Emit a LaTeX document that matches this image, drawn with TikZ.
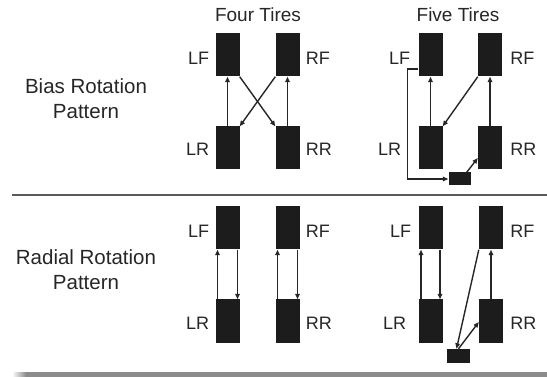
\documentclass[tikz,border=0pt]{standalone}
\usepackage{fontspec}
\setmainfont{Liberation Sans}
\usetikzlibrary{arrows.meta,positioning,calc}
\definecolor{TireBlack}{HTML}{1C1C1C}
\definecolor{InkGray}{HTML}{262626}
\definecolor{RuleGray}{HTML}{5A5A5A}
\definecolor{ShadowGray}{HTML}{8C8C8C}

\begin{document}
\begin{tikzpicture}[
        x=1pt,y=-1pt,
        tire/.style={fill=TireBlack,draw=none,minimum width=24pt,minimum height=43pt,inner sep=0pt},
        spare/.style={fill=TireBlack,draw=none,minimum width=22pt,minimum height=13pt,inner sep=0pt},
        tirelbl/.style={font=\fontsize{18}{20}\selectfont,text=InkGray,inner sep=1pt},
        title/.style={font=\fontsize{19}{23}\selectfont,text=InkGray,align=center},
        rowtitle/.style={font=\fontsize{20.5}{25}\selectfont,text=InkGray,align=center},
        arr/.style={-{Triangle[length=5.5pt,width=4.5pt]},line width=1.4pt,draw=InkGray}
      ]
        \useasboundingbox (0,0) rectangle (547,377);
        % column and row headings
        \node[title] (four) at (258,15) {Four Tires};
        \node[title] (five) at (458,15) {Five Tires};
        \node[rowtitle] (bias) at (86,99) {Bias Rotation\\Pattern};
        \node[rowtitle] (radial) at (86,270) {Radial Rotation\\Pattern};
        % rules
        \draw[line width=2pt,draw=RuleGray] (12,195) -- (547,195);
        \shade[left color=white,right color=ShadowGray] (12,372) rectangle (26,377);
        \fill[ShadowGray] (26,372) rectangle (547,377);
        % bias, four tires
        \node[tire] (lf4b) at (227.5,55) {};
        \node[tire] (rf4b) at (287.5,55) {};
        \node[tire] (lr4b) at (227.5,148) {};
        \node[tire] (rr4b) at (287.5,148) {};
        \node[tirelbl,left=5pt of lf4b,yshift=-3pt] {LF};
        \node[tirelbl,right=5pt of rf4b,yshift=-3pt] {RF};
        \node[tirelbl,left=5pt of lr4b,yshift=-1pt] {LR};
        \node[tirelbl,right=5pt of rr4b,yshift=-1pt] {RR};
        \draw[arr] (lr4b.north) -- (lf4b.south);
        \draw[arr] (rr4b.north) -- (rf4b.south);
        \draw[arr] (lf4b.south east) -- (rr4b.north west);
        \draw[arr] (rf4b.south west) -- (lr4b.north east);
        % bias, five tires
        \node[tire] (lf5b) at (430.5,55) {};
        \node[tire] (rf5b) at (490,55) {};
        \node[tire] (lr5b) at (430.5,148) {};
        \node[tire] (rr5b) at (490,148) {};
        \node[spare] (sp5b) at (459.5,179) {};
        \node[tirelbl,left=7pt of lf5b,yshift=-3pt] {LF};
        \node[tirelbl,right=7pt of rf5b,yshift=-3pt] {RF};
        \node[tirelbl,left=16pt of lr5b,yshift=-1pt] {LR};
        \node[tirelbl,right=7pt of rr5b,yshift=-1pt] {RR};
        \draw[arr] (lr5b.north) -- (lf5b.south);
        \draw[arr] (rr5b.north) -- (rf5b.south);
        \draw[arr] (rf5b.south west) -- (lr5b.north east);
        \draw[arr] ([yshift=-14pt]lf5b.west) -- ++(-11,0) |- (sp5b.west);
        \draw[arr] ([xshift=-4pt]sp5b.north east) -- ([yshift=-10pt]rr5b.west);
        % radial, four tires
        \node[tire] (lf4r) at (227.5,228) {};
        \node[tire] (rf4r) at (287.5,228) {};
        \node[tire] (lr4r) at (227.5,321) {};
        \node[tire] (rr4r) at (287.5,321) {};
        \node[tirelbl,left=5pt of lf4r,yshift=-3pt] {LF};
        \node[tirelbl,right=5pt of rf4r,yshift=-3pt] {RF};
        \node[tirelbl,left=5pt of lr4r,yshift=-2pt] {LR};
        \node[tirelbl,right=5pt of rr4r,yshift=-2pt] {RR};
        \draw[arr] ([xshift=-10pt]lr4r.north) -- ([xshift=-10pt]lf4r.south);
        \draw[arr] ([xshift=10pt]lf4r.south) -- ([xshift=10pt]lr4r.north);
        \draw[arr] ([xshift=-10pt]rr4r.north) -- ([xshift=-10pt]rf4r.south);
        \draw[arr] ([xshift=10pt]rf4r.south) -- ([xshift=10pt]rr4r.north);
        % radial, five tires
        \node[tire] (lf5r) at (430.5,228) {};
        \node[tire] (rf5r) at (491,228) {};
        \node[tire] (lr5r) at (430.5,321) {};
        \node[tire] (rr5r) at (491,321) {};
        \node[spare,minimum width=23pt,minimum height=14pt] (sp5r) at (458.5,356) {};
        \node[tirelbl,left=6pt of lf5r,yshift=-3pt] {LF};
        \node[tirelbl,right=6pt of rf5r,yshift=-3pt] {RF};
        \node[tirelbl,left=11pt of lr5r,yshift=-2pt] {LR};
        \node[tirelbl,right=6pt of rr5r,yshift=-2pt] {RR};
        \draw[arr] ([xshift=-9.5pt]lr5r.north) -- ([xshift=-9.5pt]lf5r.south);
        \draw[arr] ([xshift=9.5pt]lf5r.south) -- ([xshift=9.5pt]lr5r.north);
        \draw[arr] (rr5r.north) -- (rf5r.south);
        \draw[arr] (rf5r.south west) -- ([xshift=-2pt]sp5r.north);
        \draw[arr] (sp5r.north) -- ([yshift=-1pt]rr5r.west);
      \end{tikzpicture}
\end{document}
